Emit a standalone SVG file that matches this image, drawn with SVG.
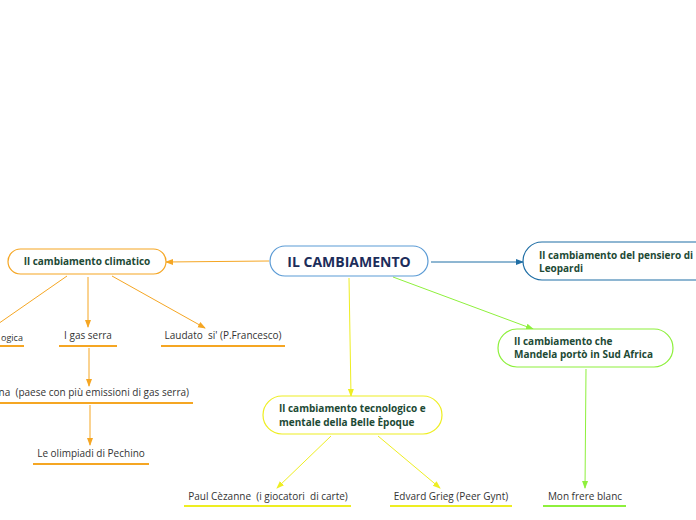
<svg xmlns="http://www.w3.org/2000/svg" width="696" height="520" viewBox="0 0 696 520">
<defs>
<style>
.t{font-family:"Open Sans","Noto Sans",sans-serif;font-size:10px;fill:#333}
.b{font-family:"Open Sans","Noto Sans",sans-serif;font-size:10px;font-weight:bold;fill:#1d4a35}
.c{font-family:"Open Sans","Noto Sans",sans-serif;font-size:14px;font-weight:bold;fill:#1c2d5a}
.ln{fill:none;stroke-width:1}
.ul{stroke-width:2}
</style>
<marker id="ao" viewBox="0 0 8 8" refX="7" refY="4" markerWidth="8" markerHeight="8" markerUnits="userSpaceOnUse" orient="auto"><path d="M0,1 L8,4 L0,7 z" fill="#f5a623"/></marker>
<marker id="ab" viewBox="0 0 8 8" refX="7" refY="4" markerWidth="8" markerHeight="8" markerUnits="userSpaceOnUse" orient="auto"><path d="M0,1 L8,4 L0,7 z" fill="#1f6ea5"/></marker>
<marker id="ag" viewBox="0 0 8 8" refX="7" refY="4" markerWidth="8" markerHeight="8" markerUnits="userSpaceOnUse" orient="auto"><path d="M0,1 L8,4 L0,7 z" fill="#8ef03c"/></marker>
<marker id="ay" viewBox="0 0 8 8" refX="7" refY="4" markerWidth="8" markerHeight="8" markerUnits="userSpaceOnUse" orient="auto"><path d="M0,1 L8,4 L0,7 z" fill="#eeee22"/></marker>
</defs>
<rect width="696" height="520" fill="#fff"/>
<g id="connectors">
<line class="ln" x1="269" y1="261" x2="166" y2="262" stroke="#f5a623" marker-end="url(#ao)"/>
<line class="ln" x1="431" y1="262" x2="523" y2="262" stroke="#1f6ea5" marker-end="url(#ab)"/>
<line class="ln" x1="393" y1="277" x2="533" y2="329" stroke="#8ef03c" marker-end="url(#ag)"/>
<line class="ln" x1="349" y1="278" x2="351" y2="396" stroke="#eeee22" marker-end="url(#ay)"/>
<line class="ln" x1="67" y1="276" x2="-5" y2="326" stroke="#f5a623"/>
<line class="ln" x1="88" y1="277" x2="88" y2="327" stroke="#f5a623" marker-end="url(#ao)"/>
<line class="ln" x1="112" y1="276" x2="205" y2="328" stroke="#f5a623" marker-end="url(#ao)"/>
<line class="ln" x1="89" y1="348" x2="89" y2="386" stroke="#f5a623" marker-end="url(#ao)"/>
<line class="ln" x1="90" y1="405" x2="90" y2="445" stroke="#f5a623" marker-end="url(#ao)"/>
<line class="ln" x1="331" y1="436" x2="277" y2="488" stroke="#eeee22" marker-end="url(#ay)"/>
<line class="ln" x1="378" y1="436" x2="440" y2="488" stroke="#eeee22" marker-end="url(#ay)"/>
<line class="ln" x1="586" y1="369" x2="585" y2="488" stroke="#8ef03c" marker-end="url(#ag)"/>
</g>
<g id="central">
<rect x="270" y="246" width="158" height="30" rx="15" fill="#fff" stroke="#5b9bd5" stroke-width="1.2"/>
<text class="c" x="349" y="267" text-anchor="middle">IL CAMBIAMENTO</text>
</g>
<g id="climatico">
<rect x="8" y="249" width="158" height="25" rx="12.5" fill="#fff" stroke="#f5a623" stroke-width="1.2"/>
<text class="b" x="87" y="265" text-anchor="middle">Il cambiamento climatico</text>
</g>
<g id="leopardi">
<rect x="523" y="242" width="200" height="38" rx="19" fill="#fff" stroke="#1f6ea5" stroke-width="1.2"/>
<text class="b" x="539" y="259">Il cambiamento del pensiero di</text>
<text class="b" x="539" y="272">Leopardi</text>
</g>
<g id="mandela">
<rect x="498" y="329" width="175" height="38" rx="19" fill="#fff" stroke="#8ef03c" stroke-width="1.2"/>
<text class="b" x="514" y="345">Il cambiamento che</text>
<text class="b" x="514" y="358">Mandela portò in Sud Africa</text>
</g>
<g id="belle">
<rect x="263" y="396" width="179" height="38" rx="19" fill="#fff" stroke="#eeee22" stroke-width="1.2"/>
<text class="b" x="279" y="412">Il cambiamento tecnologico e</text>
<text class="b" x="279" y="426">mentale della Belle Èpoque</text>
</g>
<g id="ecologica">
<text class="t" x="1" y="341" style="font-size:9px">ogica</text>
<line class="ul" x1="0" y1="346" x2="24" y2="346" stroke="#f5a623"/>
</g>
<g id="gasserra">
<text class="t" x="88" y="339" text-anchor="middle">I gas serra</text>
<line class="ul" x1="59" y1="346" x2="117" y2="346" stroke="#f5a623"/>
</g>
<g id="laudato">
<text class="t" x="223" y="339" text-anchor="middle" xml:space="preserve">Laudato  si' (P.Francesco)</text>
<line class="ul" x1="161" y1="346" x2="285" y2="346" stroke="#f5a623"/>
</g>
<g id="cina">
<text class="t" x="189" y="396" text-anchor="end" xml:space="preserve">na  (paese con più emissioni di gas serra)</text>
<line class="ul" x1="0" y1="403" x2="193" y2="403" stroke="#f5a623"/>
</g>
<g id="olimpiadi">
<text class="t" x="91" y="457" text-anchor="middle">Le olimpiadi di Pechino</text>
<line class="ul" x1="33" y1="464" x2="149" y2="464" stroke="#f5a623"/>
</g>
<g id="cezanne">
<text class="t" x="268" y="500" text-anchor="middle" xml:space="preserve">Paul Cèzanne  (i giocatori  di carte)</text>
<line class="ul" x1="184" y1="506" x2="351" y2="506" stroke="#eeee22"/>
</g>
<g id="grieg">
<text class="t" x="451" y="500" text-anchor="middle">Edvard Grieg (Peer Gynt)</text>
<line class="ul" x1="390" y1="506" x2="512" y2="506" stroke="#eeee22"/>
</g>
<g id="monfrere">
<text class="t" x="585" y="500" text-anchor="middle">Mon frere blanc</text>
<line class="ul" x1="543" y1="506" x2="626" y2="506" stroke="#8ef03c"/>
</g>
</svg>
